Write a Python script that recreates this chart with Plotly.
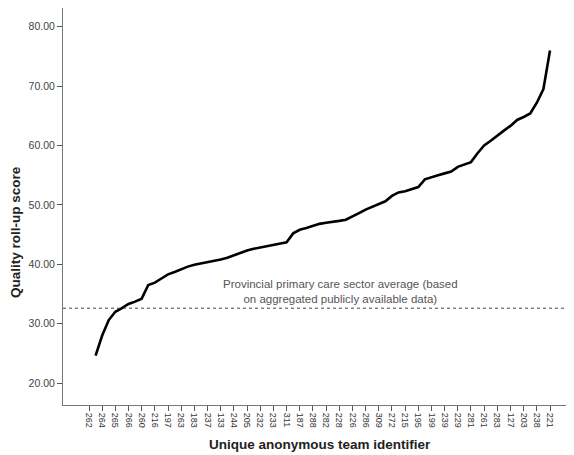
import plotly.graph_objects as go

# ---- data ----
team_labels = ["262", "264", "265", "266", "260", "216", "197", "263", "183", "237",
               "133", "244", "205", "232", "233", "311", "187", "288", "282", "228",
               "226", "286", "309", "272", "215", "195", "199", "239", "229", "281",
               "261", "283", "127", "203", "238", "221"]

# 71 teams sorted by score (only every other identifier is labelled on the axis)
scores = [None, 24.6, 28.0, 30.6, 32.0, 32.6, 33.3, 33.7, 34.2, 36.5,
          36.9, 37.6, 38.3, 38.7, 39.2, 39.6, 39.9, 40.1, 40.3, 40.6,
          40.8, 41.1, 41.5, 42.0, 42.3, 42.6, 42.8, 43.0, 43.2, 43.4,
          43.7, 45.2, 45.8, 46.1, 46.5, 46.8, 47.0, 47.1, 47.3, 47.5,
          48.0, 48.6, 49.2, 49.7, 50.2, 50.6, 51.5, 52.1, 52.3, 52.6,
          53.0, 54.3, 54.7, 55.0, 55.3, 55.6, 56.4, 56.8, 57.2, 58.7,
          60.0, 60.8, 61.7, 62.5, 63.3, 64.3, 64.8, 65.4, 67.2, 69.5,
          76.0]

provincial_avg = 32.6
avg_label = "Provincial primary care sector average (based<br>on aggregated publicly available data)"
y_ticks = [20, 30, 40, 50, 60, 70, 80]

# ---- layout geometry ----
# the page body adds an 8px offset, so the figure is sized to fit the window
OFF = 8
W, H = 574 - OFF, 455 - OFF
L, R, T, B = 63 - OFF, 0, 0, 50
pw, ph = W - L - R, H - T - B

def px2paper_x(px):
    return (px - OFF - L) / pw

def px2paper_y(py):
    return (H - B - (py - OFF)) / ph

xs = list(range(len(scores)))
tick_pos = xs[::2]

FONT = "Liberation Sans, Arial"

fig = go.Figure()
fig.add_trace(go.Scatter(
    x=xs, y=scores, mode="lines",
    line=dict(color="black", width=2.6),
    connectgaps=False, showlegend=False, hoverinfo="skip"))

fig.add_shape(type="line", xref="paper", yref="y", x0=0, x1=1,
              y0=provincial_avg, y1=provincial_avg,
              line=dict(color="#444444", width=1, dash="dot"))

fig.add_annotation(text=avg_label, xref="paper", yref="paper",
                   x=px2paper_x(221), y=px2paper_y(291.5), xanchor="left", yanchor="middle",
                   align="center", showarrow=False,
                   font=dict(family=FONT, size=11.5, color="#555555"))

fig.add_annotation(text="<b>Quality roll-up score</b>", xref="paper", yref="paper",
                   x=px2paper_x(15), y=px2paper_y(232), xanchor="center", yanchor="middle",
                   textangle=-90, showarrow=False,
                   font=dict(family=FONT, size=13.5, color="#222222"))

fig.add_annotation(text="<b>Unique anonymous team identifier</b>", xref="paper", yref="paper",
                   x=px2paper_x(320), y=px2paper_y(444), xanchor="center", yanchor="middle",
                   showarrow=False,
                   font=dict(family=FONT, size=13.5, color="#222222"))

fig.update_layout(
    template="none",
    width=W, height=H,
    margin=dict(l=L, r=R, t=T, b=B, autoexpand=False),
    paper_bgcolor="white", plot_bgcolor="white",
    font=dict(family=FONT, color="#333333"),
    xaxis=dict(range=[-3.948, 73.644], tickmode="array", tickvals=tick_pos,
               ticktext=team_labels, tickangle=90, tickfont=dict(size=9, color="#333333"),
               ticks="outside", ticklen=5, tickcolor="#555555", automargin=False,
               showline=True, linecolor="#777777", linewidth=1, mirror=True,
               showgrid=False, zeroline=False),
    yaxis=dict(range=[16.295, 83.15], tickmode="array", tickvals=y_ticks,
               ticktext=[f"{v:.2f}" for v in y_ticks], tickfont=dict(size=10.5, color="#444444"),
               ticks="outside", ticklen=5, tickcolor="#555555", automargin=False,
               showline=True, linecolor="#777777", linewidth=1, mirror=False,
               showgrid=False, zeroline=False),
)

fig.write_html("out.html")
